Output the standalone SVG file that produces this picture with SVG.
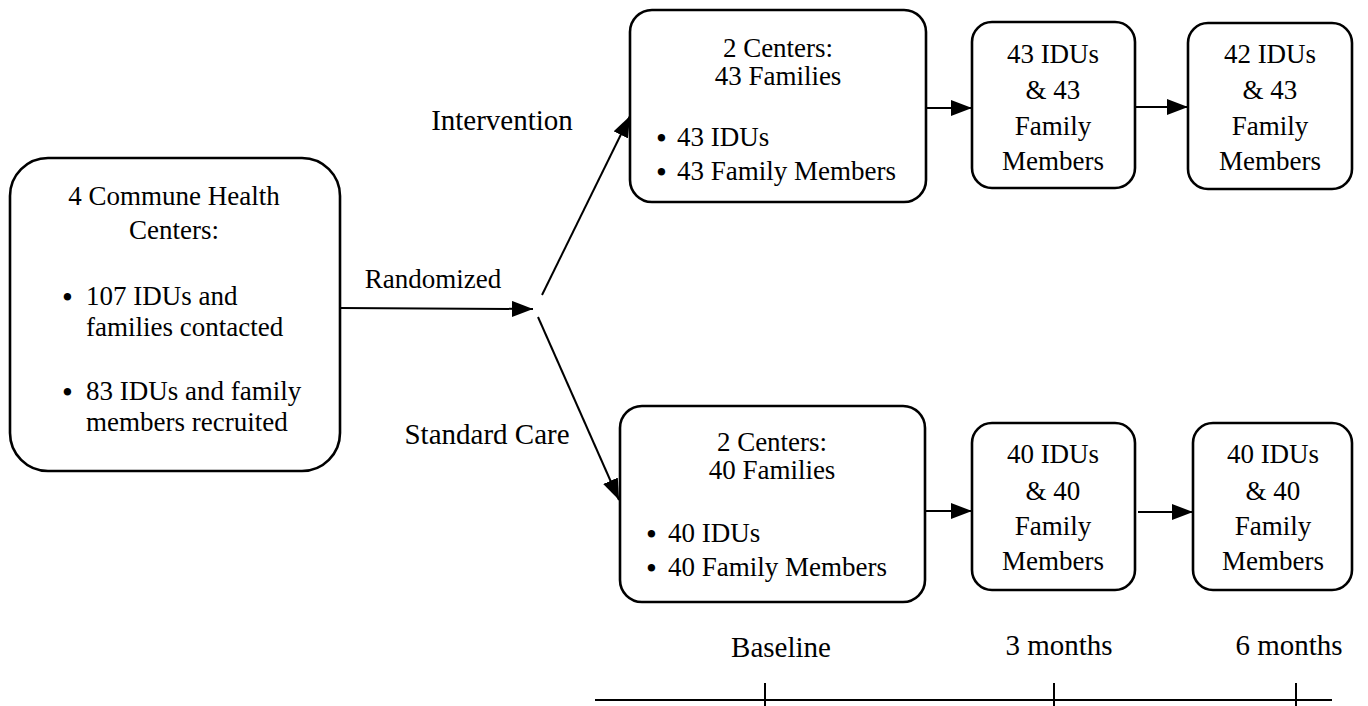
<svg xmlns="http://www.w3.org/2000/svg" width="1368" height="706" viewBox="0 0 1368 706">
<style>
.box{fill:#fff;stroke:#000;stroke-width:2.6}
.ln{stroke:#000;stroke-width:2;fill:none}
.t{font-family:"Liberation Serif","Times New Roman",serif;font-size:27px;fill:#000}
.c{text-anchor:middle}
.l{font-size:29px}
.b{font-size:31px}
</style>
<defs>
<marker id="ah" markerUnits="userSpaceOnUse" markerWidth="21" markerHeight="16" refX="21" refY="8" orient="auto">
<path d="M0,0 L21,8 L0,16 Z" fill="#000"/>
</marker>
</defs>
<rect width="1368" height="706" fill="#fff"/>

<g id="connectors">
<line class="ln" x1="340" y1="308" x2="533" y2="309" marker-end="url(#ah)"/>
<line class="ln" x1="542" y1="295" x2="630" y2="116" marker-end="url(#ah)"/>
<line class="ln" x1="538" y1="317" x2="619" y2="500" marker-end="url(#ah)"/>
<line class="ln" x1="926" y1="108" x2="972" y2="108" marker-end="url(#ah)"/>
<line class="ln" x1="1135" y1="107" x2="1188" y2="107" marker-end="url(#ah)"/>
<line class="ln" x1="925" y1="511" x2="972" y2="511" marker-end="url(#ah)"/>
<line class="ln" x1="1138" y1="512" x2="1193" y2="512" marker-end="url(#ah)"/>
</g>

<g id="labels">
<text class="t c l" x="502" y="130">Intervention</text>
<text class="t c" x="433" y="288">Randomized</text>
<text class="t c l" x="487" y="444">Standard Care</text>
</g>

<g id="start">
<rect class="box" x="10" y="158" width="330" height="313" rx="38"/>
<text class="t c" x="174" y="205">4 Commune Health</text>
<text class="t c" x="174" y="239">Centers:</text>
<text class="t" y="305"><tspan class="b" x="62" dy="3">•</tspan><tspan x="86" dy="-3">107 IDUs and</tspan></text>
<text class="t" x="86" y="336">families contacted</text>
<text class="t" y="400"><tspan class="b" x="62" dy="3">•</tspan><tspan x="86" dy="-3">83 IDUs and family</tspan></text>
<text class="t" x="86" y="431">members recruited</text>
</g>

<g id="intervention">
<rect class="box" x="630" y="10" width="296" height="192" rx="22"/>
<text class="t c" x="778" y="57">2 Centers:</text>
<text class="t c" x="778" y="85">43 Families</text>
<text class="t" y="146"><tspan class="b" x="656" dy="3">•</tspan><tspan x="677" dy="-3">43 IDUs</tspan></text>
<text class="t" y="180"><tspan class="b" x="656" dy="3">•</tspan><tspan x="677" dy="-3">43 Family Members</tspan></text>
</g>

<g id="standard">
<rect class="box" x="620" y="406" width="305" height="196" rx="22"/>
<text class="t c" x="772" y="451">2 Centers:</text>
<text class="t c" x="772" y="479">40 Families</text>
<text class="t" y="542"><tspan class="b" x="646" dy="3">•</tspan><tspan x="668" dy="-3">40 IDUs</tspan></text>
<text class="t" y="576"><tspan class="b" x="646" dy="3">•</tspan><tspan x="668" dy="-3">40 Family Members</tspan></text>
</g>

<g id="int3m">
<rect class="box" x="972" y="22" width="163" height="166" rx="20"/>
<text class="t c" x="1053" y="63">43 IDUs</text>
<text class="t c" x="1053" y="99">&amp; 43</text>
<text class="t c" x="1053" y="135">Family</text>
<text class="t c" x="1053" y="170">Members</text>
</g>

<g id="int6m">
<rect class="box" x="1188" y="23" width="164" height="166" rx="20"/>
<text class="t c" x="1270" y="63">42 IDUs</text>
<text class="t c" x="1270" y="99">&amp; 43</text>
<text class="t c" x="1270" y="135">Family</text>
<text class="t c" x="1270" y="170">Members</text>
</g>

<g id="std3m">
<rect class="box" x="972" y="423" width="163" height="167" rx="20"/>
<text class="t c" x="1053" y="463">40 IDUs</text>
<text class="t c" x="1053" y="500">&amp; 40</text>
<text class="t c" x="1053" y="535">Family</text>
<text class="t c" x="1053" y="570">Members</text>
</g>

<g id="std6m">
<rect class="box" x="1193" y="423" width="159" height="167" rx="20"/>
<text class="t c" x="1273" y="463">40 IDUs</text>
<text class="t c" x="1273" y="500">&amp; 40</text>
<text class="t c" x="1273" y="535">Family</text>
<text class="t c" x="1273" y="570">Members</text>
</g>

<g id="timeline">
<line class="ln" x1="595" y1="700" x2="1332" y2="700"/>
<line class="ln" x1="765" y1="683" x2="765" y2="706" stroke-width="1.5"/>
<line class="ln" x1="1054" y1="683" x2="1054" y2="706" stroke-width="1.5"/>
<line class="ln" x1="1296" y1="683" x2="1296" y2="706" stroke-width="1.5"/>
<text class="t c l" x="781" y="657">Baseline</text>
<text class="t c l" x="1059" y="655">3 months</text>
<text class="t c l" x="1289" y="655">6 months</text>
</g>
</svg>
